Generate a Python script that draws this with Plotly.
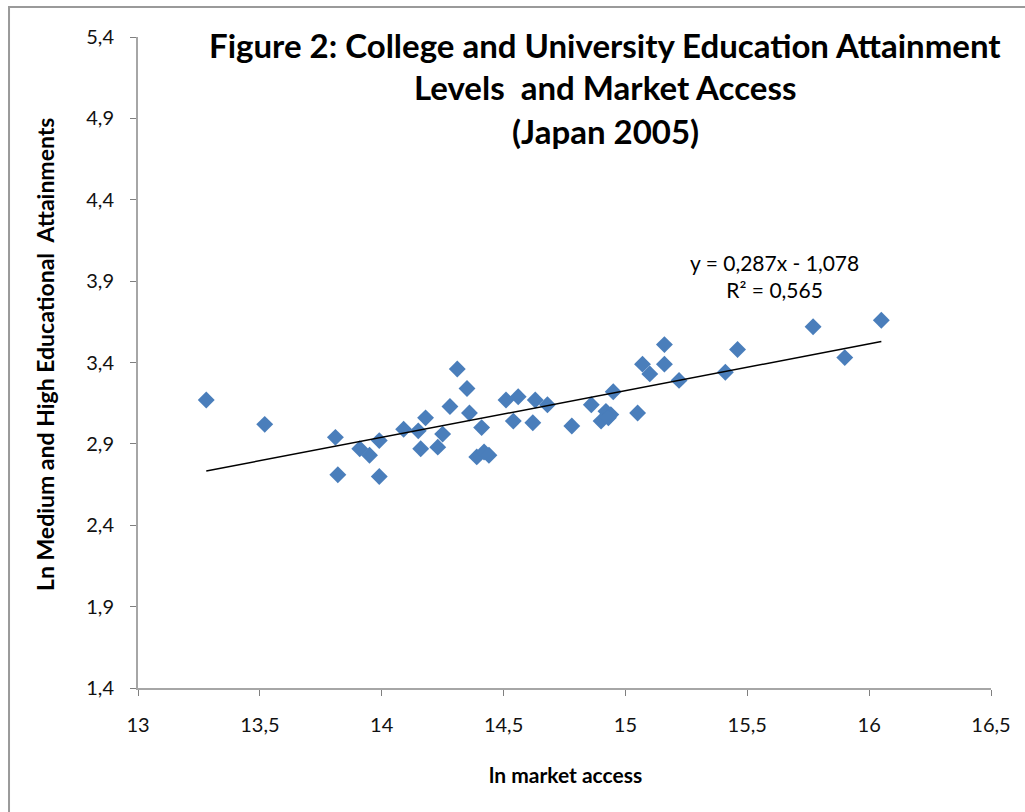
import plotly.graph_objects as go

# Data
ln_market_access = [
    13.28, 13.52, 13.81, 13.82, 13.91, 13.95, 13.99, 13.99, 14.09, 14.15,
    14.18, 14.16, 14.25, 14.23, 14.28, 14.31, 14.35, 14.36, 14.41, 14.39,
    14.42, 14.44, 14.51, 14.56, 14.54, 14.63, 14.68, 14.62, 14.78, 14.86,
    14.95, 14.92, 14.90, 14.94, 14.93, 15.05, 15.07, 15.10, 15.16, 15.16,
    15.22, 15.46, 15.41, 15.77, 15.90, 16.05,
]
ln_attainment = [
    3.17, 3.02, 2.94, 2.71, 2.87, 2.83, 2.92, 2.70, 2.99, 2.98,
    3.06, 2.87, 2.96, 2.88, 3.13, 3.36, 3.24, 3.09, 3.00, 2.82,
    2.85, 2.83, 3.17, 3.19, 3.04, 3.17, 3.14, 3.03, 3.01, 3.14,
    3.22, 3.10, 3.04, 3.08, 3.06, 3.09, 3.39, 3.33, 3.51, 3.39,
    3.29, 3.48, 3.34, 3.62, 3.43, 3.66,
]
slope = 0.287
intercept = -1.078
r_squared = 0.565

x_ticks = [13, 13.5, 14, 14.5, 15, 15.5, 16, 16.5]
y_ticks = [1.4, 1.9, 2.4, 2.9, 3.4, 3.9, 4.4, 4.9, 5.4]

title_lines = [
    "Figure 2: College and University Education Attainment",
    "Levels  and Market Access",
    "(Japan 2005)",
]
x_title = "ln market access"
y_title = "Ln Medium and High Educational  Attainments"

FONT = "Lato, Carlito, Calibri, sans-serif"

trend_x = [min(ln_market_access), max(ln_market_access)]
trend_y = [slope * v + intercept for v in trend_x]

fig = go.Figure()
fig.add_trace(go.Scatter(
    x=ln_market_access, y=ln_attainment, mode="markers",
    marker=dict(symbol="diamond", size=13, color="#4A7EBB", line=dict(width=0)),
    showlegend=False, hoverinfo="x+y",
))
fig.add_trace(go.Scatter(
    x=trend_x, y=trend_y, mode="lines",
    line=dict(color="#000000", width=1.5),
    showlegend=False, hoverinfo="skip",
))

# regression equation
fig.add_annotation(
    x=15.61, y=3.93, xref="x", yref="y", yanchor="middle",
    text=f"y = {slope:.3f}x - {abs(intercept):.3f}".replace(".", ",")
         + "<br>" + f"R² = {r_squared:.3f}".replace(".", ","),
    showarrow=False, font=dict(family=FONT, size=21, color="#000000"),
    align="center",
)

# title, one annotation per line
for txt, yp in zip(title_lines, [0.9877, 0.923, 0.8556]):
    fig.add_annotation(
        x=0.5475, y=yp, xref="paper", yref="paper",
        xanchor="center", yanchor="middle", showarrow=False, text=txt,
        font=dict(family=FONT, size=33, color="#000000", weight="bold"),
    )

# axis titles
fig.add_annotation(
    x=0.5006, y=-0.1336, xref="paper", yref="paper",
    xanchor="center", yanchor="middle", showarrow=False, text=x_title,
    font=dict(family=FONT, size=21, color="#000000", weight="bold"),
)
fig.add_annotation(
    x=-0.109, y=0.5115, xref="paper", yref="paper", textangle=-90,
    xanchor="center", yanchor="middle", showarrow=False, text=y_title,
    font=dict(family=FONT, size=23, color="#000000", weight="bold"),
)

fig.update_layout(
    width=1025, height=812,
    margin=dict(l=138, r=34, t=37, b=124),
    paper_bgcolor="white", plot_bgcolor="white",
    separators=",.",
    font=dict(family=FONT, size=20, color="#000000"),
    xaxis=dict(
        range=[13, 16.5], tickvals=x_ticks, tickformat=".1~f",
        showgrid=False, zeroline=False,
        showline=True, linecolor="#A6A6A6", linewidth=2,
        ticks="outside", tickcolor="#7F7F7F", ticklen=6, tickwidth=1,
        tickfont=dict(family=FONT, size=20, color="#111111"),
        ticklabelstandoff=12,
    ),
    yaxis=dict(
        range=[1.4, 5.4], tickvals=y_ticks, tickformat=".1f",
        showgrid=False, zeroline=False,
        showline=True, linecolor="#A6A6A6", linewidth=2,
        ticks="outside", tickcolor="#7F7F7F", ticklen=6, tickwidth=1,
        tickfont=dict(family=FONT, size=20, color="#111111"),
        ticklabelstandoff=12,
    ),
    shapes=[dict(type="rect", xref="paper", yref="paper",
                 x0=-0.1512, x1=1.06, y0=-0.22, y1=1.046,
                 line=dict(color="#9A9A9A", width=2), fillcolor="rgba(0,0,0,0)",
                 layer="below")],
)

fig.write_html("out.html")
